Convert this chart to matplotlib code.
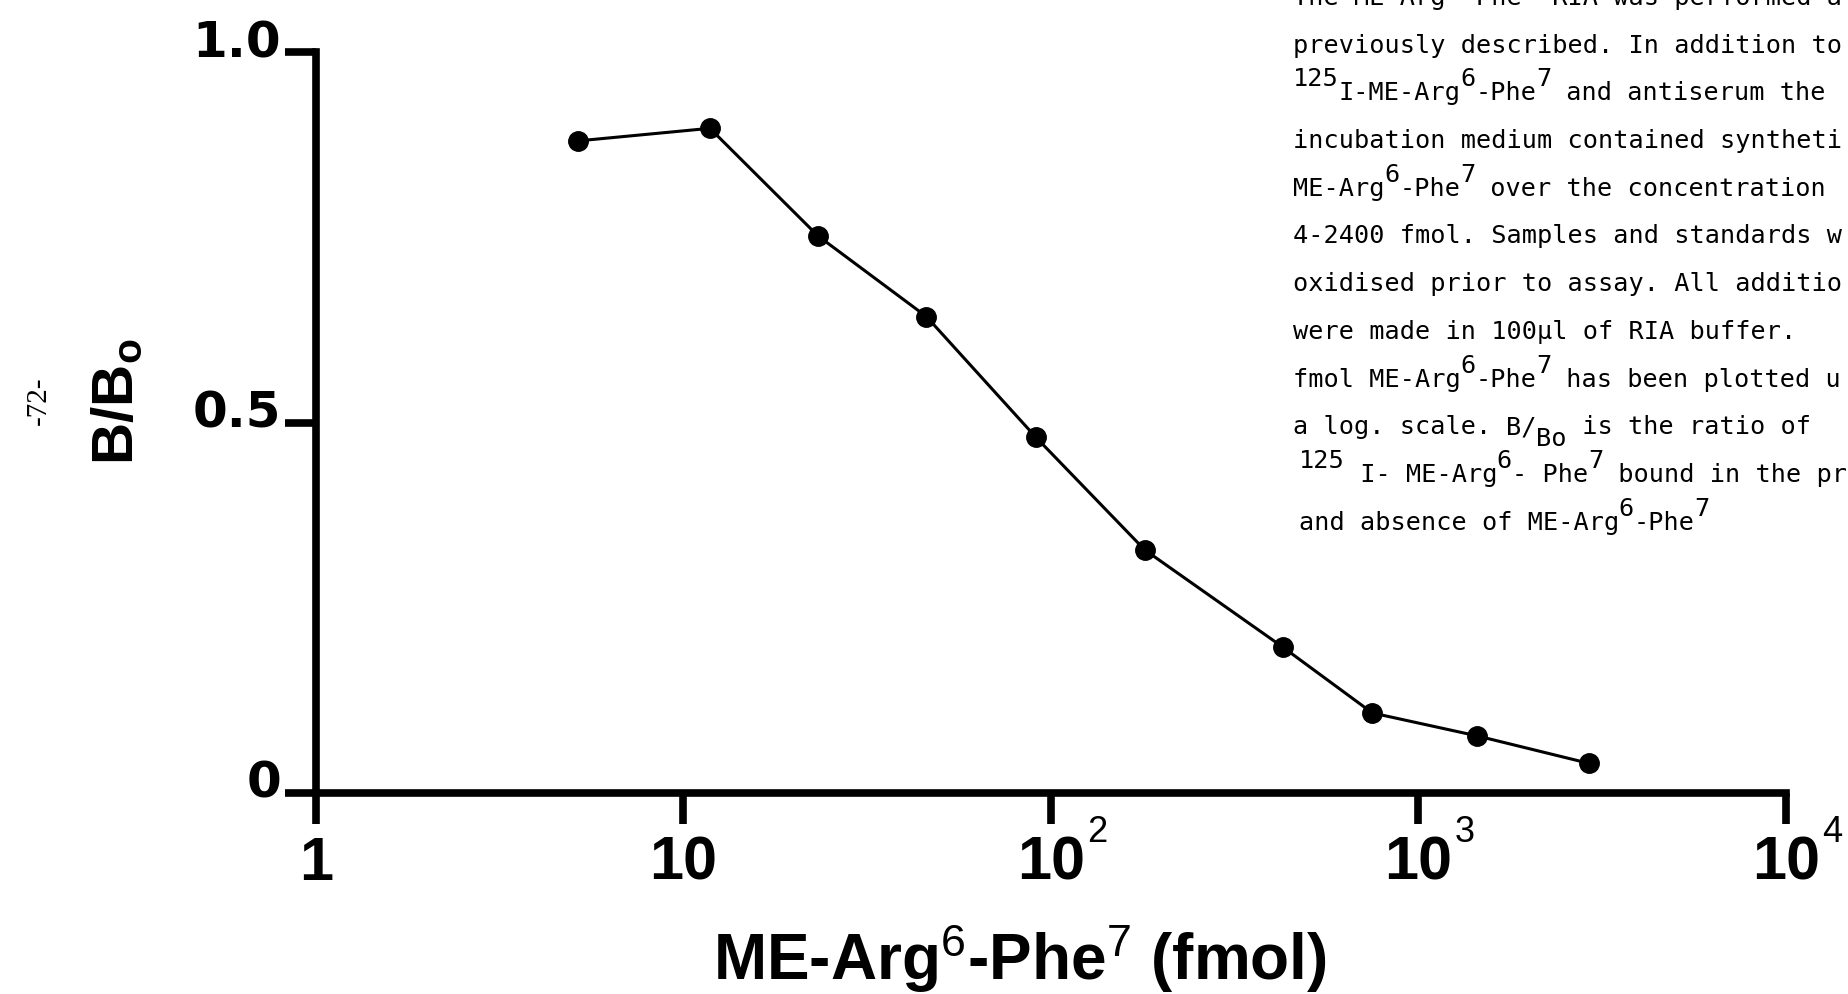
import matplotlib
matplotlib.use("Agg")
import matplotlib.pyplot as plt
from matplotlib import transforms as mtransforms

# standard curve for the ME-Arg6-Phe7 radioimmunoassay
conc_fmol = [5.15, 11.8, 23.2, 45.8, 91.0, 180.0, 427.0, 749.0, 1446.0, 2909.0]
b_over_b0 = [0.880, 0.897, 0.752, 0.643, 0.480, 0.328, 0.197, 0.108, 0.077, 0.040]

x_ticks = [1, 10, 100, 1000, 10000]
x_tick_base = ["1", "10", "10", "10", "10"]
x_tick_exp = ["", "", "2", "3", "4"]
y_ticks = [0, 0.5, 1.0]
y_tick_labels = ["0", "0.5", "1.0"]

# legend typed beside the graph: (indent in columns, [(text, raise in px), ...])
# lines stop where the page is trimmed; the first line runs off the top
caption = [
    (0.0, [("The ME-Arg -Phe  RIA was performed a", 0)]),
    (0.0, [("previously described. In addition to", 0)]),
    (0.0, [("125", 14), ("I-ME-Arg", 0), ("6", 14), ("-Phe", 0), ("7", 14), (" and antiserum the", 0)]),
    (0.0, [("incubation medium contained syntheti", 0)]),
    (0.0, [("ME-Arg", 0), ("6", 14), ("-Phe", 0), ("7", 14), (" over the concentration", 0)]),
    (0.0, [("4-2400 fmol. Samples and standards w", 0)]),
    (0.0, [("oxidised prior to assay. All additio", 0)]),
    (0.0, [("were made in 100\u00b5l of RIA buffer.", 0)]),
    (0.0, [("fmol ME-Arg", 0), ("6", 14), ("-Phe", 0), ("7", 14), (" has been plotted u", 0)]),
    (0.0, [("a log. scale. ", 0), ("B/", 0), ("Bo", -12), (" is the ratio of", 0)]),
    (0.4, [("125", 14), (" I- ME-Arg", 0), ("6", 14), ("- Phe", 0), ("7", 14), (" bound in the pr", 0)]),
    (0.4, [("and absence of ME-Arg", 0), ("6", 14), ("-Phe", 0), ("7", 14)]),
]

W, H = 1849, 994

plt.rcParams["mathtext.fontset"] = "custom"
plt.rcParams["mathtext.rm"] = "Liberation Sans"
plt.rcParams["mathtext.it"] = "Liberation Sans:italic"
plt.rcParams["mathtext.bf"] = "Liberation Sans:bold"

fig = plt.figure(figsize=(W / 100, H / 100), dpi=100)
ax = fig.add_axes([316 / W, 1 - 793 / H, (1786 - 316) / W, (793 - 52) / H])


def px(x, y):
    return x / W, 1 - y / H


ax.plot(conc_fmol, b_over_b0, color="black", lw=2.2, marker="o", ms=14,
        mfc="black", mec="black", clip_on=False)

ax.set_xscale("log")
ax.set_xlim(x_ticks[0], x_ticks[-1])
ax.set_ylim(0, 1.0)
for s in ["top", "right"]:
    ax.spines[s].set_visible(False)
for s in ["left", "bottom"]:
    ax.spines[s].set_linewidth(5.5)
    ax.spines[s].set_capstyle("projecting")
ax.set_xticks(x_ticks)
ax.xaxis.set_minor_locator(plt.NullLocator())
ax.set_yticks(y_ticks)
ax.set_xticklabels([])
ax.set_yticklabels([])
ax.tick_params(length=22, width=5.5, direction="out")

# tick labels
ytrans = mtransforms.blended_transform_factory(fig.transFigure, ax.transData)
for v, lab in zip(y_ticks, y_tick_labels):
    ax.text(281 / W, v, lab, transform=mtransforms.offset_copy(ytrans, fig, y=-5, units="dots"),
            ha="right", va="baseline", fontsize=36, fontweight="bold", family="DejaVu Sans")

xtrans = mtransforms.blended_transform_factory(ax.transData, fig.transFigure)
for v, lab, ex in zip(x_ticks, x_tick_base, x_tick_exp):
    ax.text(v, 1 - 880 / H, lab, transform=xtrans, ha="center", va="baseline",
            fontsize=44, fontweight="bold", family="Liberation Sans")
    if ex:
        ax.text(v, 1 - 842 / H, ex, transform=mtransforms.offset_copy(xtrans, fig, x=36, units="dots"),
                ha="left", va="baseline", fontsize=26, family="Liberation Sans")

# axis titles
fig.text(*px(1020, 980), "ME-Arg$^{6}$-Phe$^{7}$ (fmol)", ha="center", va="baseline",
         fontsize=46, fontweight="bold", family="Liberation Sans")
fig.text(*px(118, 402), r"B/B$_{\mathregular{o}}$", rotation=90, ha="center", va="center",
         fontsize=42, fontweight="bold", family="Liberation Sans")

# page number
fig.text(*px(39, 401), "-72-", rotation=90, ha="center", va="center",
         fontsize=21, family="Liberation Serif")

# typed legend, monospaced columns
x0, cw, lead = 1293, 15.2, 47.7
for i, (indent, pieces) in enumerate(caption):
    base = 5 + lead * i
    col = indent
    for txt, rise in pieces:
        fig.text(*px(x0 + col * cw, base - rise), txt, ha="left", va="baseline",
                 fontsize=18.2, family="DejaVu Sans Mono")
        col += len(txt)

fig.savefig("out.png", dpi=100)
